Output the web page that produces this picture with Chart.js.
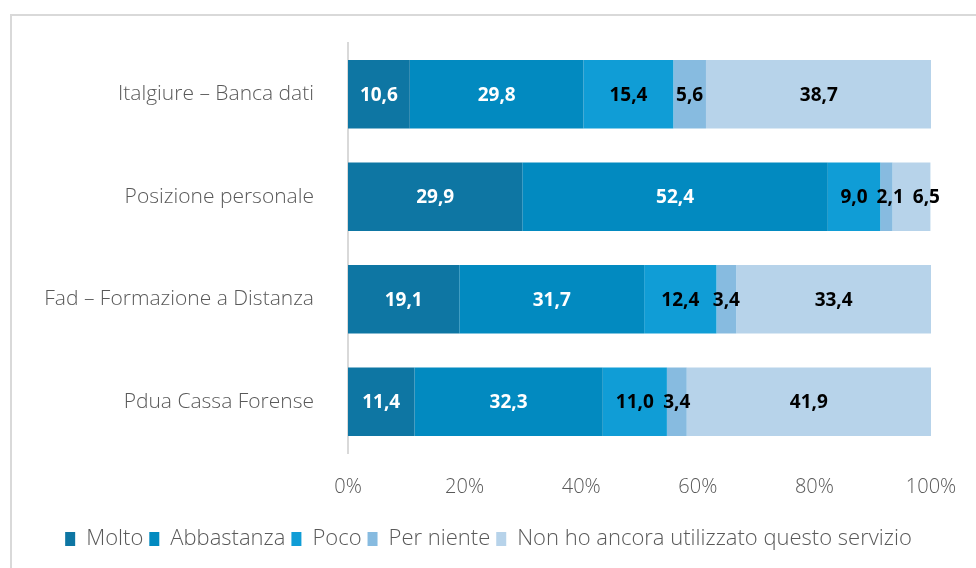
<!DOCTYPE html>
<html>
<head>
<meta charset="utf-8">
<script src="https://cdn.jsdelivr.net/npm/chart.js@4"></script>
<style>
  html, body { margin: 0; padding: 0; background: #fff; }
  #wrap { position: relative; width: 976px; height: 568px; overflow: hidden; }
</style>
</head>
<body>
<div id="wrap"><canvas id="chart" width="976" height="568"></canvas></div>
<script>
const categories = ['Italgiure – Banca dati', 'Posizione personale', 'Fad – Formazione a Distanza', 'Pdua Cassa Forense'];
const seriesNames = ['Molto', 'Abbastanza', 'Poco', 'Per niente', 'Non ho ancora utilizzato questo servizio'];
const molto = [10.6, 29.9, 19.1, 11.4];
const abbastanza = [29.8, 52.4, 31.7, 32.3];
const poco = [15.4, 9.0, 12.4, 11.0];
const perNiente = [5.6, 2.1, 3.4, 3.4];
const nonUtilizzato = [38.7, 6.5, 33.4, 41.9];
const xTicks = [0, 20, 40, 60, 80, 100];

const colors = ['#0E76A3', '#028AC0', '#109DD6', '#87BBE0', '#B7D3EA'];
const labelColors = ['#fff', '#fff', '#000', '#000', '#000'];
const seriesValues = [molto, abbastanza, poco, perNiente, nonUtilizzato];

const frame = {
  id: 'frame',
  beforeDraw(chart) {
    const c = chart.ctx;
    c.save();
    c.fillStyle = '#fff';
    c.fillRect(0, 0, chart.width, chart.height);
    c.strokeStyle = '#D9D9D9';
    c.lineWidth = 2;
    c.strokeRect(11, 15, 1000, 600);
    c.restore();
  },
  // the legend sits a little right of the default centre
  afterLayout(chart) {
    chart.legend.left += 18;
    chart.legend.right += 18;
  }
};

// value labels centred in each segment, nudged right when they would collide
const valueLabels = {
  id: 'valueLabels',
  afterDatasetsDraw(chart) {
    const c = chart.ctx;
    c.save();
    c.font = 'bold 19px "Open Sans", sans-serif';
    c.textAlign = 'left';
    c.textBaseline = 'middle';
    chart.data.labels.forEach((_, j) => {
      let prevRight = -Infinity;
      chart.data.datasets.forEach((ds, i) => {
        const bar = chart.getDatasetMeta(i).data[j];
        const txt = ds.data[j].toFixed(1).replace('.', ',');
        const w = c.measureText(txt).width;
        let left = (bar.x + bar.base) / 2 - w / 2;
        if (left < prevRight + 9) left = prevRight + 9;
        c.fillStyle = labelColors[i];
        c.fillText(txt, left, bar.y + 1);
        prevRight = left + w;
      });
    });
    c.restore();
  }
};

new Chart(document.getElementById('chart'), {
  type: 'bar',
  data: {
    labels: categories,
    datasets: seriesNames.map((name, i) => ({
      label: name,
      data: seriesValues[i],
      backgroundColor: colors[i],
      borderWidth: 0,
      barPercentage: 0.67,
      categoryPercentage: 1
    }))
  },
  options: {
    indexAxis: 'y',
    responsive: false,
    animation: false,
    layout: { padding: { left: 10, top: 43, right: 45, bottom: 8 } },
    scales: {
      x: {
        stacked: true,
        min: 0,
        max: 100,
        afterBuildTicks: (scale) => { scale.ticks = xTicks.map(v => ({ value: v })); },
        grid: { display: false, drawTicks: false },
        border: { display: false },
        ticks: {
          padding: 22,
          color: '#595959',
          font: { family: '"Open Sans", sans-serif', size: 20, weight: 300 },
          callback: (v) => v + '%'
        },
        afterFit: (scale) => {
          scale.height = 69;
          scale.paddingLeft = 0;
          scale.paddingRight = 0;
        }
      },
      y: {
        stacked: true,
        grid: { display: false, drawTicks: false },
        border: { display: true, color: '#D9D9D9', width: 2 },
        ticks: {
          padding: 34,
          color: '#595959',
          font: { family: '"Open Sans", sans-serif', size: 21, weight: 300 }
        },
        afterFit: (scale) => {
          scale.width = 338;
          scale.paddingTop = 0;
          scale.paddingBottom = 0;
        }
      }
    },
    plugins: {
      legend: {
        position: 'bottom',
        labels: {
          boxWidth: 10,
          boxHeight: 14,
          padding: 6,
          color: '#595959',
          font: { family: '"Open Sans", sans-serif', size: 22, weight: 300 }
        }
      },
      tooltip: { enabled: false }
    }
  },
  plugins: [frame, valueLabels]
});
</script>
</body>
</html>
